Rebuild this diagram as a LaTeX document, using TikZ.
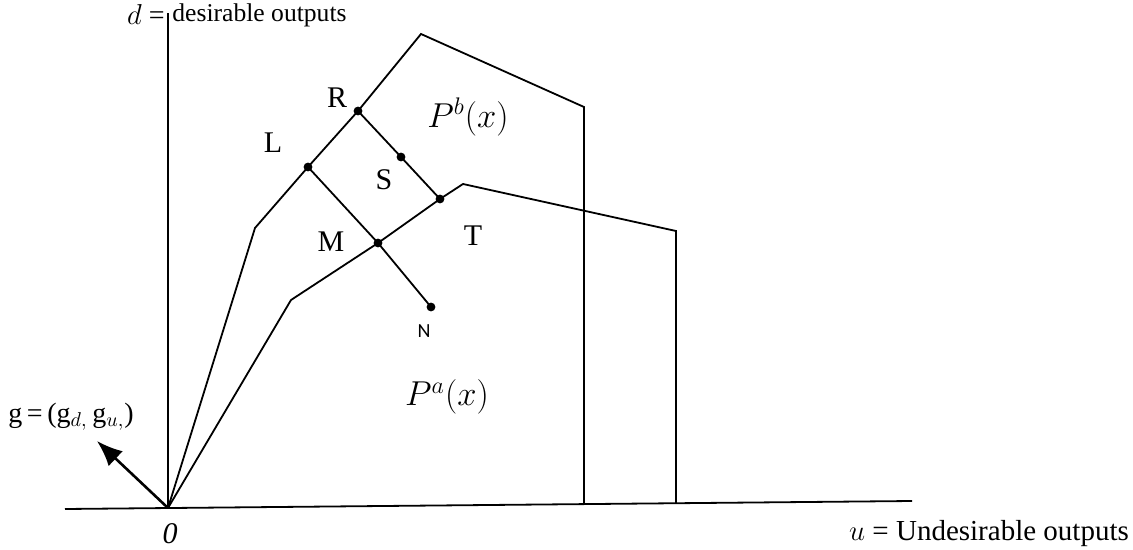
\documentclass[tikz,border=0pt]{standalone}
\usepackage{fontspec}
\setmainfont{Liberation Serif}
\newfontfamily\labelsans{Carlito}
\usetikzlibrary{arrows.meta}

\begin{document}
\begin{tikzpicture}[
    x=0.5pt,y=-0.5pt,
    font=\fontsize{14}{16}\selectfont,
    axis/.style={line width=0.9pt},
    frontier/.style={line width=0.9pt,line join=miter},
    dot/.style={circle,fill=black,inner sep=0pt,minimum size=4.4pt},
    pointlabel/.style={font=\fontsize{15}{17}\selectfont},
    setlabel/.style={font=\fontsize{17}{19}\selectfont},
    arrow/.style={-{Latex[length=4.5mm,width=3.6mm]},line width=1.3pt}
  ]
    \useasboundingbox (0,0) rectangle (1133,550);

    \coordinate (O) at (168,508);
    \coordinate (dtop) at (168,13);
    \coordinate (uleft) at (65,509);
    \coordinate (uright) at (912,501);
    \draw[axis] (O) -- (dtop);
    \draw[axis] (uleft) -- (uright);

    \node[anchor=east,inner sep=1pt] (dsym) at (167,15) {$d$ =};
    \node[anchor=west,inner sep=1pt,font=\fontsize{12.8}{15}\selectfont] (dlabel) at (170,15) {desirable outputs};
    \node[font=\fontsize{14.5}{17}\selectfont] (ulabel) at (989,534) {$u$ = Undesirable outputs};
    \node[pointlabel] (zero) at (170,534) {\textit{0}};
    \node (glabel) at (71,417) {g\,=\,(g$_{d,}$\,g$_{u,}$)};

    \coordinate (gtip) at (97,441);
    \draw[arrow] (O) -- (gtip);

    \node[dot] (L) at (308,167) {};
    \node[dot] (R) at (358,111) {};
    \node[dot] (S) at (401,157) {};
    \node[dot] (M) at (378,243) {};
    \node[dot] (T) at (440,199) {};
    \node[dot] (N) at (431,307) {};

    \coordinate (b1) at (255,228);
    \coordinate (b2) at (421,34);
    \coordinate (b3) at (584,107);
    \coordinate (b4) at (584,504);
    \draw[frontier] (O) -- (b1) -- (L.center) -- (R.center) -- (b2) -- (b3) -- (b4);

    \coordinate (a1) at (291,300);
    \coordinate (a2) at (463,184);
    \coordinate (a3) at (676,231);
    \coordinate (a4) at (676,503);
    \draw[frontier] (O) -- (a1) -- (M.center) -- (T.center) -- (a2) -- (a3) -- (a4);

    \draw[frontier] (R.center) -- (S.center) -- (T.center);
    \draw[frontier] (L.center) -- (M.center) -- (N.center);

    \node[pointlabel] (Rlabel) at (337,98) {R};
    \node[pointlabel] (Llabel) at (273,143) {L};
    \node[pointlabel] (Slabel) at (384,180) {S};
    \node[pointlabel] (Mlabel) at (331,242) {M};
    \node[pointlabel] (Tlabel) at (473,236) {T};
    \node[font=\labelsans\fontsize{10}{12}\selectfont] (Nlabel) at (424,331) {N};
    \node[setlabel] (Pb) at (468,117) {$P^b(x)$};
    \node[setlabel] (Pa) at (447,397) {$P^a(x)$};
  \end{tikzpicture}
\end{document}
